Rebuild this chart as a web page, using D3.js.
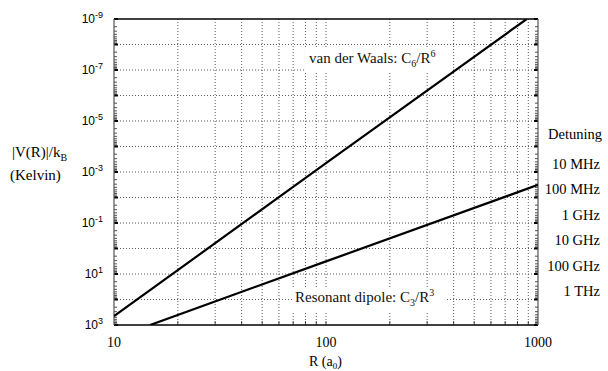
<!DOCTYPE html>
<html><head><meta charset="utf-8">
<script src="https://cdn.jsdelivr.net/npm/d3@7"></script>
<style>body{margin:0;background:#fff}svg{display:block}</style>
</head><body>
<svg id="c" width="608" height="371"></svg>
<script>
// ---- data ----
const xDomain = [10, 1000];
const yDomain = [1e-9, 1e3];               // top -> bottom, as printed
const xTickLabels = [10, 100, 1000];
const yTickExponents = [-9, -7, -5, -3, -1, 1, 3];
const vdwR = [10, 100, 885];
const vdwV = [450, 4.5e-4, 1e-9];
const dipR = [14.8, 100, 1000];
const dipV = [1000, 3.2, 3.2e-3];
const detuningLabels = ["10 MHz", "100 MHz", "1 GHz", "10 GHz", "100 GHz", "1 THz"];
const detuningValues = [4.8e-4, 4.8e-3, 4.8e-2, 0.48, 4.8, 48];

// ---- layout ----
const W = 608, H = 371;
const m = {left: 114, right: 70, top: 19, bottom: 46};
const svg = d3.select("#c");
const x = d3.scaleLog().domain(xDomain).range([m.left, W - m.right]);
const y = d3.scaleLog().domain(yDomain).range([m.top, H - m.bottom]);
const serif = "'Liberation Serif','Times New Roman',serif";
const sans = "'Liberation Sans',Arial,sans-serif";

const xMinor = [];
for (let d = 10; d < 1000; d *= 10) for (let k = 1; k < 10; k++) if (!(d === 10 && k === 1)) xMinor.push(k * d);
const yDec = d3.range(-9, 4).map(e => Math.pow(10, e));
const yMinor = [];
for (let e = -9; e < 3; e++) for (let k = 2; k < 10; k++) yMinor.push(k * Math.pow(10, e));

const g = svg.append("g");
g.selectAll(".vg").data(xMinor).join("line")
  .attr("x1", d => x(d)).attr("x2", d => x(d))
  .attr("y1", m.top).attr("y2", H - m.bottom)
  .attr("stroke", "#333").attr("stroke-width", 0.8).attr("stroke-dasharray", "1,2");
g.selectAll(".hg").data(yDec.slice(1, -1)).join("line")
  .attr("x1", m.left).attr("x2", W - m.right)
  .attr("y1", d => y(d)).attr("y2", d => y(d))
  .attr("stroke", "#333").attr("stroke-width", 0.8).attr("stroke-dasharray", "1,2");

[[m.left, 1], [W - m.right, -1]].forEach(([px, dir]) => {
  g.selectAll(null).data(yMinor).join("line")
    .attr("x1", px).attr("x2", px + dir * 3)
    .attr("y1", d => y(d)).attr("y2", d => y(d))
    .attr("stroke", "#222").attr("stroke-width", 0.8);
  g.selectAll(null).data(yDec).join("line")
    .attr("x1", px).attr("x2", px + dir * 4)
    .attr("y1", d => y(d)).attr("y2", d => y(d))
    .attr("stroke", "#000").attr("stroke-width", 2);
});
g.selectAll(null).data(xMinor).join("line")
  .attr("x1", d => x(d)).attr("x2", d => x(d))
  .attr("y1", H - m.bottom).attr("y2", H - m.bottom - 4)
  .attr("stroke", "#222").attr("stroke-width", 0.8);

function inLabel(tx, ty, main, sub, slash, main2, sup) {
  const t = svg.append("text").attr("x", tx).attr("y", ty)
    .attr("font-family", serif).attr("font-size", 15).attr("fill", "#111");
  t.append("tspan").text(main);
  t.append("tspan").attr("font-size", 10).attr("dy", 4).text(sub);
  t.append("tspan").attr("dy", -4).text(slash + main2);
  t.append("tspan").attr("font-size", 10).attr("dy", -6).text(sup);
  return t;
}

const fr = svg.append("g");
fr.append("line").attr("x1", m.left).attr("x2", W - m.right).attr("y1", m.top).attr("y2", m.top).attr("stroke", "#000").attr("stroke-width", 1.5);
fr.append("line").attr("x1", m.left).attr("x2", W - m.right).attr("y1", H - m.bottom).attr("y2", H - m.bottom).attr("stroke", "#000").attr("stroke-width", 1.5);
fr.append("line").attr("x1", m.left).attr("x2", m.left).attr("y1", m.top).attr("y2", H - m.bottom).attr("stroke", "#555").attr("stroke-width", 1.2);
fr.append("line").attr("x1", W - m.right).attr("x2", W - m.right).attr("y1", m.top).attr("y2", H - m.bottom).attr("stroke", "#555").attr("stroke-width", 1.2);

svg.append("rect").attr("x", 305).attr("y", 47).attr("width", 148).attr("height", 26).attr("fill", "#fff");
svg.append("rect").attr("x", 292).attr("y", 287).attr("width", 155).attr("height", 25).attr("fill", "#fff");

const clipId = "pc";
svg.append("clipPath").attr("id", clipId).append("rect")
  .attr("x", m.left).attr("y", m.top).attr("width", W - m.left - m.right).attr("height", H - m.top - m.bottom);
const line = d3.line().x(d => x(d[0])).y(d => y(d[1]));
svg.append("path").datum(d3.zip(vdwR, vdwV)).attr("d", line)
  .attr("fill", "none").attr("stroke", "#000").attr("stroke-width", 2.2).attr("clip-path", `url(#${clipId})`);
svg.append("path").datum(d3.zip(dipR, dipV)).attr("d", line)
  .attr("fill", "none").attr("stroke", "#000").attr("stroke-width", 2.2).attr("clip-path", `url(#${clipId})`);

inLabel(309, 63, "van der Waals: C", "6", "/", "R", "6");
inLabel(295, 302, "Resonant dipole: C", "3", "/", "R", "3");

const yl = svg.append("g");
yTickExponents.forEach(e => {
  const t = yl.append("text").attr("x", 103).attr("y", y(Math.pow(10, e)) + 4)
    .attr("text-anchor", "end").attr("font-family", sans).attr("font-size", 12).attr("fill", "#000");
  t.append("tspan").text("10");
  t.append("tspan").attr("font-size", 9).attr("dy", -5).text(e);
});

xTickLabels.forEach(v => {
  svg.append("text").attr("x", x(v)).attr("y", 347).attr("text-anchor", "middle")
    .attr("font-family", serif).attr("font-size", 14).attr("fill", "#000").text(v);
});
const xt = svg.append("text").attr("x", 309).attr("y", 366)
  .attr("font-family", serif).attr("font-size", 14).attr("fill", "#000");
xt.append("tspan").text("R (a");
xt.append("tspan").attr("font-size", 9).attr("dy", 3).text("0");
xt.append("tspan").attr("dy", -3).text(")");

const yt = svg.append("text").attr("x", 12).attr("y", 157)
  .attr("font-family", serif).attr("font-size", 15).attr("fill", "#000");
yt.append("tspan").text("|V(R)|/k");
yt.append("tspan").attr("font-size", 10).attr("dy", 4).text("B");
svg.append("text").attr("x", 10).attr("y", 180)
  .attr("font-family", serif).attr("font-size", 15).attr("fill", "#000").text("(Kelvin)");

svg.append("text").attr("x", 602).attr("y", y(detuningValues[0]) - 25)
  .attr("text-anchor", "end").attr("font-family", serif).attr("font-size", 14.5).attr("fill", "#000").text("Detuning");
detuningLabels.forEach((s, i) => {
  svg.append("text").attr("x", 600).attr("y", y(detuningValues[i]) + 5)
    .attr("text-anchor", "end").attr("font-family", serif).attr("font-size", 14.5).attr("fill", "#000").text(s);
});
</script>
</body></html>
